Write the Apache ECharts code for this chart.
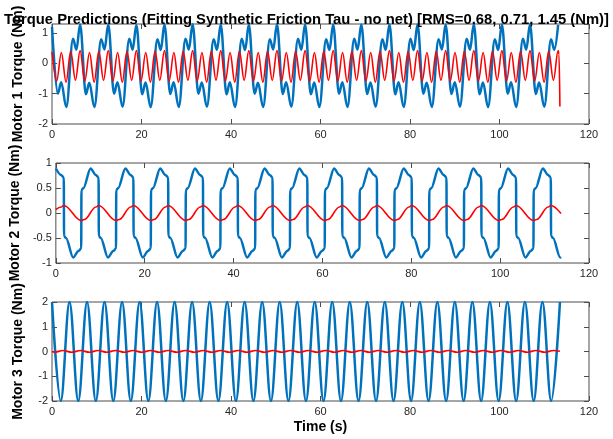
<!DOCTYPE html>
<html>
<head>
<meta charset="utf-8">
<script src="https://cdn.jsdelivr.net/npm/echarts@6/dist/echarts.min.js"></script>
<style>
  html, body { margin: 0; padding: 0; background: #fff; }
  #chart { width: 613px; height: 439px; }
</style>
</head>
<body>
<div id="chart"></div>
<script>
  // tick values of the three subplots
  var xTicks = [0, 20, 40, 60, 80, 100, 120];
  var y1Ticks = [-2, -1, 0, 1];
  var y1Top = 1.3;
  var y2Ticks = [-1, -0.5, 0, 0.5, 1];
  var y3Ticks = [-2, -1, 0, 1, 2];

  var titleText = 'Torque Predictions (Fitting Synthetic Friction Tau - no net) [RMS=0.68, 0.71, 1.45 (Nm)]';
  var yNames = ['Motor 1 Torque (Nm)', 'Motor 2 Torque (Nm)', 'Motor 3 Torque (Nm)'];

  // [time (s), torque (Nm)] - turning points
  var motor1Meas = [
    [0,1.2],[1.3,-1.0],[2.05,-0.62],[3.2,-1.44],[4.7,0.81],[5.45,0.45],
    [6.28,1.28],[7.58,-1.02],[8.33,-0.64],[9.48,-1.44],[10.98,0.8],[11.73,0.46],
    [12.57,1.28],[13.87,-1.0],[14.62,-0.62],[15.77,-1.43],[17.27,0.81],[18.02,0.45],
    [18.85,1.27],[20.15,-1.02],[20.9,-0.63],[22.05,-1.44],[23.55,0.8],[24.3,0.44],
    [25.13,1.28],[26.43,-1.01],[27.18,-0.62],[28.33,-1.44],[29.83,0.81],[30.58,0.46],
    [31.42,1.29],[32.72,-1.0],[33.47,-0.63],[34.62,-1.43],[36.12,0.8],[36.87,0.45],
    [37.7,1.28],[39.0,-1.02],[39.75,-0.62],[40.9,-1.44],[42.4,0.81],[43.15,0.44],
    [43.98,1.28],[45.28,-1.0],[46.03,-0.64],[47.18,-1.44],[48.68,0.8],[49.43,0.46],
    [50.27,1.29],[51.57,-1.01],[52.32,-0.62],[53.47,-1.43],[54.97,0.81],[55.72,0.45],
    [56.55,1.28],[57.85,-1.02],[58.6,-0.63],[59.75,-1.44],[61.25,0.8],[62.0,0.44],
    [62.83,1.28],[64.13,-1.0],[64.88,-0.62],[66.03,-1.44],[67.53,0.81],[68.28,0.46],
    [69.12,1.28],[70.42,-1.01],[71.17,-0.63],[72.32,-1.43],[73.82,0.8],[74.57,0.45],
    [75.4,1.29],[76.7,-1.02],[77.45,-0.62],[78.6,-1.44],[80.1,0.81],[80.85,0.44],
    [81.68,1.28],[82.98,-1.0],[83.73,-0.64],[84.88,-1.44],[86.38,0.8],[87.13,0.46],
    [87.96,1.28],[89.26,-1.01],[90.01,-0.62],[91.16,-1.43],[92.66,0.81],[93.41,0.45],
    [94.25,1.29],[95.55,-1.02],[96.3,-0.63],[97.45,-1.44],[98.95,0.8],[99.7,0.44],
    [100.53,1.28],[101.83,-1.0],[102.58,-0.62],[103.73,-1.44],[105.23,0.81],[105.98,0.46],
    [106.81,1.28],[108.11,-1.01],[108.86,-0.63],[110.01,-1.43],[111.51,0.8],[112.26,0.45],
    [113.1,1.27]
  ];
  var motor1Pred = [
    [0,0.38],[1.05,-0.58],[2.09,0.36],[3.14,-0.62],[4.19,0.4],[5.24,-0.56],
    [6.28,0.42],[7.33,-0.58],[8.38,0.36],[9.42,-0.62],[10.47,0.4],[11.52,-0.56],
    [12.57,0.42],[13.61,-0.58],[14.66,0.36],[15.71,-0.62],[16.76,0.4],[17.8,-0.56],
    [18.85,0.42],[19.9,-0.58],[20.94,0.36],[21.99,-0.62],[23.04,0.4],[24.09,-0.56],
    [25.13,0.42],[26.18,-0.58],[27.23,0.36],[28.27,-0.62],[29.32,0.4],[30.37,-0.56],
    [31.42,0.42],[32.46,-0.58],[33.51,0.36],[34.56,-0.62],[35.61,0.4],[36.65,-0.56],
    [37.7,0.42],[38.75,-0.58],[39.79,0.36],[40.84,-0.62],[41.89,0.4],[42.94,-0.56],
    [43.98,0.42],[45.03,-0.58],[46.08,0.36],[47.12,-0.62],[48.17,0.4],[49.22,-0.56],
    [50.27,0.42],[51.31,-0.58],[52.36,0.36],[53.41,-0.62],[54.45,0.4],[55.5,-0.56],
    [56.55,0.42],[57.6,-0.58],[58.64,0.36],[59.69,-0.62],[60.74,0.4],[61.78,-0.56],
    [62.83,0.42],[63.88,-0.58],[64.93,0.36],[65.97,-0.62],[67.02,0.4],[68.07,-0.56],
    [69.12,0.42],[70.16,-0.58],[71.21,0.36],[72.26,-0.62],[73.3,0.4],[74.35,-0.56],
    [75.4,0.42],[76.45,-0.58],[77.49,0.36],[78.54,-0.62],[79.59,0.4],[80.63,-0.56],
    [81.68,0.42],[82.73,-0.58],[83.78,0.36],[84.82,-0.62],[85.87,0.4],[86.92,-0.56],
    [87.96,0.42],[89.01,-0.58],[90.06,0.36],[91.11,-0.62],[92.15,0.4],[93.2,-0.56],
    [94.25,0.42],[95.29,-0.58],[96.34,0.36],[97.39,-0.62],[98.44,0.4],[99.48,-0.56],
    [100.53,0.42],[101.58,-0.58],[102.63,0.36],[103.67,-0.62],[104.72,0.4],[105.77,-0.56],
    [106.81,0.42],[107.86,-0.58],[108.91,0.36],[109.96,-0.62],[111.0,0.4],[112.05,-0.56],
    [113.1,0.42],[113.3,0.3],[113.5,-1.42]
  ];

  var motor2Meas = [
    [0,0.89],[1.18,0.76],
    [1.79,0.71],[1.84,-0.46],[2.29,-0.5],[3.89,-0.89],[5.09,-0.76],[5.71,-0.71],[5.76,0.46],[6.21,0.5],[7.81,0.89],[9.01,0.76],
    [9.62,0.71],[9.67,-0.46],[10.12,-0.5],[11.72,-0.89],[12.92,-0.76],[13.54,-0.71],[13.59,0.46],[14.04,0.5],[15.64,0.89],[16.84,0.76],
    [17.45,0.71],[17.5,-0.46],[17.95,-0.5],[19.55,-0.89],[20.75,-0.76],[21.37,-0.71],[21.42,0.46],[21.87,0.5],[23.47,0.89],[24.67,0.76],
    [25.28,0.71],[25.33,-0.46],[25.78,-0.5],[27.38,-0.89],[28.58,-0.76],[29.2,-0.71],[29.25,0.46],[29.7,0.5],[31.3,0.89],[32.5,0.76],
    [33.11,0.71],[33.16,-0.46],[33.61,-0.5],[35.21,-0.89],[36.41,-0.76],[37.03,-0.71],[37.08,0.46],[37.53,0.5],[39.13,0.89],[40.33,0.76],
    [40.94,0.71],[40.99,-0.46],[41.44,-0.5],[43.04,-0.89],[44.24,-0.76],[44.86,-0.71],[44.91,0.46],[45.36,0.5],[46.96,0.89],[48.16,0.76],
    [48.77,0.71],[48.82,-0.46],[49.27,-0.5],[50.87,-0.89],[52.07,-0.76],[52.69,-0.71],[52.74,0.46],[53.19,0.5],[54.79,0.89],[55.99,0.76],
    [56.6,0.71],[56.65,-0.46],[57.1,-0.5],[58.7,-0.89],[59.9,-0.76],[60.52,-0.71],[60.57,0.46],[61.02,0.5],[62.62,0.89],[63.82,0.76],
    [64.43,0.71],[64.48,-0.46],[64.93,-0.5],[66.53,-0.89],[67.73,-0.76],[68.35,-0.71],[68.4,0.46],[68.85,0.5],[70.45,0.89],[71.65,0.76],
    [72.26,0.71],[72.31,-0.46],[72.76,-0.5],[74.36,-0.89],[75.56,-0.76],[76.18,-0.71],[76.23,0.46],[76.68,0.5],[78.28,0.89],[79.48,0.76],
    [80.09,0.71],[80.14,-0.46],[80.59,-0.5],[82.19,-0.89],[83.39,-0.76],[84.01,-0.71],[84.06,0.46],[84.51,0.5],[86.11,0.89],[87.31,0.76],
    [87.92,0.71],[87.97,-0.46],[88.42,-0.5],[90.02,-0.89],[91.22,-0.76],[91.84,-0.71],[91.89,0.46],[92.34,0.5],[93.94,0.89],[95.14,0.76],
    [95.75,0.71],[95.8,-0.46],[96.25,-0.5],[97.85,-0.89],[99.05,-0.76],[99.67,-0.71],[99.72,0.46],[100.17,0.5],[101.77,0.89],[102.97,0.76],
    [103.58,0.71],[103.63,-0.46],[104.08,-0.5],[105.68,-0.89],[106.88,-0.76],[107.5,-0.71],[107.55,0.46],[108.0,0.5],[109.6,0.89],[110.8,0.76],
    [111.41,0.71],[111.46,-0.46],[111.91,-0.5],[113.51,-0.89],[113.7,-0.88]
  ];
  var motor2Pred = [
    [0,0.07],[1.19,0.12],
    [1.79,0.15],[5.71,-0.15],[6.41,-0.13],[9.02,0.12],
    [9.62,0.15],[13.54,-0.15],[14.24,-0.13],[16.85,0.12],
    [17.45,0.15],[21.37,-0.15],[22.07,-0.13],[24.68,0.12],
    [25.28,0.15],[29.2,-0.15],[29.9,-0.13],[32.51,0.12],
    [33.11,0.15],[37.03,-0.15],[37.73,-0.13],[40.34,0.12],
    [40.94,0.15],[44.86,-0.15],[45.56,-0.13],[48.17,0.12],
    [48.77,0.15],[52.69,-0.15],[53.39,-0.13],[56.0,0.12],
    [56.6,0.15],[60.52,-0.15],[61.22,-0.13],[63.83,0.12],
    [64.43,0.15],[68.35,-0.15],[69.05,-0.13],[71.66,0.12],
    [72.26,0.15],[76.18,-0.15],[76.88,-0.13],[79.49,0.12],
    [80.09,0.15],[84.01,-0.15],[84.71,-0.13],[87.32,0.12],
    [87.92,0.15],[91.84,-0.15],[92.54,-0.13],[95.15,0.12],
    [95.75,0.15],[99.67,-0.15],[100.37,-0.13],[102.98,0.12],
    [103.58,0.15],[107.5,-0.15],[108.2,-0.13],[110.81,0.12],
    [111.41,0.15],[113.7,-0.01]
  ];

  var motor3Meas = [
    [0,2],[1.96,-2],[3.91,2],[5.87,-2],[7.83,2],[9.79,-2],[11.74,2],[13.7,-2],
    [15.66,2],[17.61,-2],[19.57,2],[21.53,-2],[23.48,2],[25.44,-2],[27.4,2],[29.36,-2],
    [31.31,2],[33.27,-2],[35.23,2],[37.18,-2],[39.14,2],[41.1,-2],[43.05,2],[45.01,-2],
    [46.97,2],[48.93,-2],[50.88,2],[52.84,-2],[54.8,2],[56.75,-2],[58.71,2],[60.67,-2],
    [62.62,2],[64.58,-2],[66.54,2],[68.5,-2],[70.45,2],[72.41,-2],[74.37,2],[76.32,-2],
    [78.28,2],[80.24,-2],[82.19,2],[84.15,-2],[86.11,2],[88.07,-2],[90.02,2],[91.98,-2],
    [93.94,2],[95.89,-2],[97.85,2],[99.81,-2],[101.76,2],[103.72,-2],[105.68,2],[107.64,-2],
    [109.59,2],[111.55,-2],[113.51,2]
  ];
  var motor3Pred = [
    [0,0],[0.5,-0.03],[2.46,0.04],[4.41,-0.03],[6.37,0.04],[8.33,-0.03],[10.29,0.04],
    [12.24,-0.03],[14.2,0.04],[16.16,-0.03],[18.12,0.04],[20.07,-0.03],[22.03,0.04],
    [23.98,-0.03],[25.94,0.04],[27.9,-0.03],[29.86,0.04],[31.81,-0.03],[33.77,0.04],
    [35.73,-0.03],[37.69,0.04],[39.64,-0.03],[41.6,0.04],[43.55,-0.03],[45.51,0.04],
    [47.47,-0.03],[49.43,0.04],[51.38,-0.03],[53.34,0.04],[55.3,-0.03],[57.26,0.04],
    [59.21,-0.03],[61.17,0.04],[63.12,-0.03],[65.08,0.04],[67.04,-0.03],[69.0,0.04],
    [70.95,-0.03],[72.91,0.04],[74.87,-0.03],[76.83,0.04],[78.78,-0.03],[80.74,0.04],
    [82.69,-0.03],[84.65,0.04],[86.61,-0.03],[88.57,0.04],[90.52,-0.03],[92.48,0.04],
    [94.44,-0.03],[96.4,0.04],[98.35,-0.03],[100.31,0.04],[102.26,-0.03],[104.22,0.04],
    [106.18,-0.03],[108.14,0.04],[110.09,-0.03],[112.05,0.04],[113.5,0.01]
  ];

  var measColor = '#0072BD';
  var predColor = '#FF0000';
  var boxColor = '#4d4d4d';
  var tickColor = '#262626';
  var fontName = '"Liberation Sans", Arial, Helvetica, sans-serif';

  var yTickSets = [y1Ticks, y2Ticks, y3Ticks];
  var yMax = [y1Top, y2Ticks[y2Ticks.length - 1], y3Ticks[y3Ticks.length - 1]];
  var gridTops = [24, 163, 302];
  var gridHeights = [100, 100, 99];

  var grids = [], xAxes = [], yAxes = [];
  for (var i = 0; i < 3; i++) {
    grids.push({left: 52, width: 537, top: gridTops[i], height: gridHeights[i],
                show: true, borderColor: boxColor, borderWidth: 1, backgroundColor: '#fff'});
  }
  // bottom/left axes carry labels, top/right copies only draw the inner ticks
  ['bottom', 'top'].forEach(function (pos) {
    for (var i = 0; i < 3; i++) {
      var ax = {
        type: 'value', gridIndex: i, position: pos,
        min: xTicks[0], max: xTicks[xTicks.length - 1], interval: xTicks[1] - xTicks[0],
        axisLine: {show: false, onZero: false},
        axisTick: {show: true, inside: true, length: 5, lineStyle: {color: boxColor}},
        axisLabel: {show: pos === 'bottom', margin: 5, fontSize: 11, color: tickColor, fontFamily: fontName},
        splitLine: {show: false}
      };
      if (pos === 'bottom' && i === 2) {
        ax.name = 'Time (s)';
        ax.nameLocation = 'middle';
        ax.nameGap = 19;
        ax.nameTextStyle = {fontSize: 14, fontWeight: 'bold', color: '#000', fontFamily: fontName};
      }
      xAxes.push(ax);
    }
  });
  ['left', 'right'].forEach(function (pos) {
    for (var i = 0; i < 3; i++) {
      var t = yTickSets[i];
      var ay = {
        type: 'value', gridIndex: i, position: pos,
        min: t[0], max: yMax[i], interval: t[1] - t[0],
        axisLine: {show: false, onZero: false},
        axisTick: {show: true, inside: true, length: 5, lineStyle: {color: boxColor}},
        axisLabel: {show: pos === 'left', margin: 4, fontSize: 11, color: tickColor, fontFamily: fontName,
                    showMaxLabel: i !== 0},
        splitLine: {show: false}
      };
      if (pos === 'left') {
        ay.name = yNames[i];
        ay.nameLocation = 'middle';
        ay.nameGap = 27;
        ay.nameTextStyle = {fontSize: 14, fontWeight: 'bold', color: '#000', fontFamily: fontName};
      }
      yAxes.push(ay);
    }
  });

  function curve(i, data, color, width, smooth) {
    return {
      type: 'line', xAxisIndex: i, yAxisIndex: i, data: data,
      showSymbol: false, symbol: 'none',
      smooth: smooth, smoothMonotone: 'x',
      lineStyle: {color: color, width: width},
      itemStyle: {color: color},
      animation: false
    };
  }

  var dom = document.getElementById('chart');
  var myChart = echarts.init(dom);
  var option = {
    backgroundColor: '#fff',
    animation: false,
    title: {
      text: titleText, left: 'center', top: 7,
      textStyle: {fontSize: 14.8, fontWeight: 'bold', color: '#000', fontFamily: fontName}
    },
    grid: grids,
    xAxis: xAxes,
    yAxis: yAxes,
    series: [
      curve(0, motor1Meas, measColor, 2.5, 0.36),
      curve(0, motor1Pred, predColor, 1.6, 0.36),
      curve(1, motor2Meas, measColor, 2.5, 0.3),
      curve(1, motor2Pred, predColor, 1.6, 0.36),
      curve(2, motor3Meas, measColor, 2.5, 0.36),
      curve(2, motor3Pred, predColor, 1.6, 0.36)
    ]
  };
  myChart.setOption(option, true);
</script>
</body>
</html>
